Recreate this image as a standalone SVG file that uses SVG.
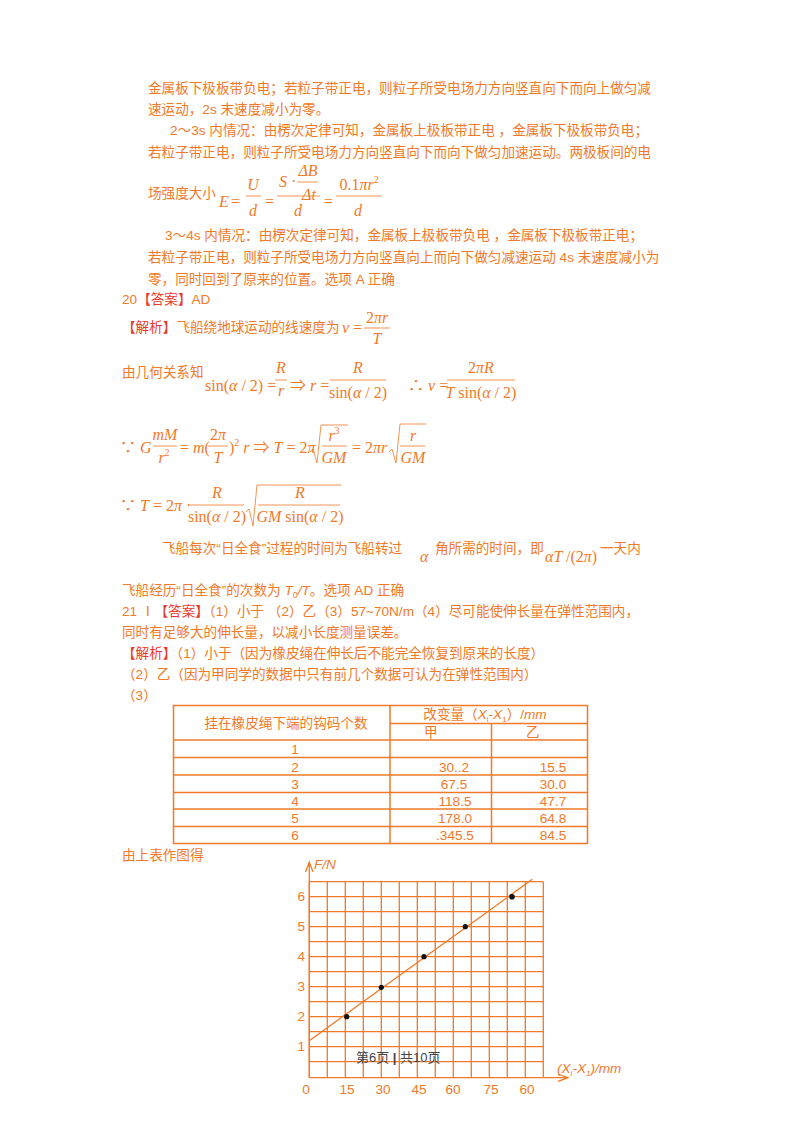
<svg xmlns="http://www.w3.org/2000/svg" width="800" height="1132" viewBox="0 0 800 1132">
<style>
text{font-family:"Liberation Sans","Noto Sans CJK SC",sans-serif;font-size:13.6px;fill:#f07a28}
.r{fill:#e83a2c}
.m{font-family:"Liberation Serif","Noto Sans CJK SC",serif;font-size:16px;font-style:italic;fill:#f07a28}
.n{font-style:normal}
.c{text-anchor:middle}
.fl{stroke:#f07a28;stroke-width:0.8;fill:none}
.tb{stroke:#f07a28;stroke-width:1.5;fill:none}
.g{stroke:#f07a28;stroke-width:1.3}
</style>
<rect width="800" height="1132" fill="#fff"/>
<g id="text1">
<text x="148" y="93">金属板下极板带负电；若粒子带正电，则粒子所受电场力方向竖直向下而向上做匀减</text>
<text x="148" y="114">速运动，2s 末速度减小为零。</text>
<text x="170" y="135">2～3s 内情况：由楞次定律可知，金属板上极板带正电 ，金属板下极板带负电；</text>
<text x="148" y="157">若粒子带正电，则粒子所受电场力方向竖直向下而向下做匀加速运动。两极板间的电</text>
<text x="148" y="198">场强度大小</text>
<text class="m" x="219" y="207">E</text><text class="m n" x="231" y="207">=</text>
<text class="m c" x="253" y="190">U</text><line class="fl" x1="246" y1="196" x2="261" y2="196"/><text class="m c" x="253" y="216">d</text>
<text class="m n" x="265" y="207">=</text>
<text class="m" x="279" y="187">S<tspan class="n"> ·</tspan></text>
<text class="m c" x="308" y="176">ΔB</text><line class="fl" x1="297" y1="182" x2="318" y2="182"/><text class="m c" x="309" y="200">Δt</text>
<line class="fl" x1="277" y1="196" x2="320" y2="196"/><text class="m c" x="298" y="216">d</text>
<text class="m n" x="324" y="207">=</text>
<text class="m c" x="359" y="190"><tspan class="n">0.1</tspan>πr<tspan class="n" font-size="10" dy="-7">2</tspan></text>
<line class="fl" x1="336" y1="196" x2="382" y2="196"/><text class="m c" x="358" y="216">d</text>
<text x="165" y="240">3～4s 内情况：由楞次定律可知，金属板上极板带负电 ，金属板下极板带正电；</text>
<text x="148" y="262">若粒子带正电，则粒子所受电场力方向竖直向上而向下做匀减速运动 4s 末速度减小为</text>
<text x="148" y="284">零，同时回到了原来的位置。选项 A 正确</text>
<text x="122" y="304">20<tspan class="r">【答案】</tspan>AD</text>
</g>
<g id="text2">
<text x="122" y="332"><tspan class="r">【解析】</tspan>飞船绕地球运动的线速度为</text>
<text class="m" x="342" y="333">v <tspan class="n">=</tspan></text>
<text class="m c" x="377" y="323"><tspan class="n">2</tspan>πr</text><line class="fl" x1="364" y1="328" x2="390" y2="328"/><text class="m c" x="377" y="344">T</text>
<text x="122" y="377">由几何关系知</text>
<text class="m n" x="205" y="391">sin(<tspan font-style="italic">α</tspan> / 2) =</text>
<text class="m c" x="281" y="373">R</text><line class="fl" x1="275" y1="380" x2="287" y2="380"/><text class="m c" x="281" y="396">r</text>
<text class="m n" x="290" y="391">⇒ <tspan font-style="italic">r</tspan> =</text>
<text class="m c" x="358" y="373">R</text><line class="fl" x1="330" y1="380" x2="386" y2="380"/><text class="m n c" x="358" y="398">sin(<tspan font-style="italic">α</tspan> / 2)</text>
<text class="m n" x="408" y="391">∴ <tspan font-style="italic">v</tspan> =</text>
<text class="m c" x="481" y="373"><tspan class="n">2</tspan>πR</text><line class="fl" x1="447" y1="380" x2="515" y2="380"/><text class="m c" x="481" y="398">T <tspan class="n">sin(</tspan>α<tspan class="n"> / 2)</tspan></text>
<text class="m n" x="120" y="453">∵ <tspan font-style="italic">G</tspan></text>
<text class="m c" x="165" y="440">mM</text><line class="fl" x1="153" y1="446" x2="177" y2="446"/><text class="m c" x="164" y="463">r<tspan class="n" font-size="10" dy="-7">2</tspan></text>
<text class="m n" x="180" y="453">= <tspan font-style="italic">m</tspan>(</text>
<text class="m c" x="218" y="440"><tspan class="n">2</tspan>π</text><line class="fl" x1="208" y1="446" x2="228" y2="446"/><text class="m c" x="218" y="463">T</text>
<text class="m n" x="229" y="453">)<tspan font-size="10" dy="-7">2</tspan><tspan dy="7"> </tspan><tspan font-style="italic">r</tspan> ⇒ <tspan font-style="italic">T</tspan> = 2<tspan font-style="italic">π</tspan></text>
<path class="fl" d="M310 452 L313 449 L317 463 L321 425 L348 425"/>
<text class="m c" x="334" y="441">r<tspan class="n" font-size="10" dy="-7">3</tspan></text><line class="fl" x1="322" y1="446" x2="347" y2="446"/><text class="m c" x="334" y="463">GM</text>
<text class="m n" x="352" y="453">= 2<tspan font-style="italic">πr</tspan></text>
<path class="fl" d="M389 452 L392 449 L396 463 L400 424 L426 424"/>
<text class="m c" x="413" y="441">r</text><line class="fl" x1="400" y1="446" x2="425" y2="446"/><text class="m c" x="413" y="463">GM</text>
<text class="m n" x="120" y="511">∵ <tspan font-style="italic">T</tspan> = 2<tspan font-style="italic">π</tspan> ·</text>
<text class="m c" x="217" y="498">R</text><line class="fl" x1="190" y1="505" x2="244" y2="505"/><text class="m n c" x="217" y="522">sin(<tspan font-style="italic">α</tspan> / 2)</text>
<path class="fl" d="M246 512 L249 509 L253 526 L257 485 L341 485"/>
<text class="m c" x="300" y="498">R</text><line class="fl" x1="258" y1="505" x2="340" y2="505"/><text class="m c" x="300" y="522">GM <tspan class="n">sin(</tspan>α<tspan class="n"> / 2)</tspan></text>
</g>
<g id="text3">
<text x="162" y="553">飞船每次“日全食”过程的时间为飞船转过</text>
<text class="m" x="420" y="562">α</text>
<text x="435" y="553">角所需的时间，即</text>
<text class="m" x="545" y="562">αT <tspan class="n">/(2</tspan>π<tspan class="n">)</tspan></text>
<text x="600" y="553">一天内</text>
<text x="122" y="595">飞船经历“日全食”的次数为 <tspan font-style="italic">T</tspan><tspan font-size="9" dy="3">0</tspan><tspan dy="-3" font-style="italic">/T</tspan>。选项 AD 正确</text>
<text x="122" y="616">21 Ⅰ<tspan class="r">【答案】</tspan>（1）小于 （2）乙（3）57~70N/m（4）尽可能使伸长量在弹性范围内，</text>
<text x="122" y="637">同时有足够大的伸长量，以减小长度测量误差。</text>
<text x="122" y="658"><tspan class="r">【解析】</tspan>（1）小于（因为橡皮绳在伸长后不能完全恢复到原来的长度）</text>
<text x="122" y="679">（2）乙（因为甲同学的数据中只有前几个数据可认为在弹性范围内）</text>
<text x="122" y="700">（3）</text>
</g>
<g id="table">
<rect class="tb" x="173.5" y="705.5" width="414" height="138"/>
<line class="tb" x1="390" y1="705.5" x2="390" y2="843.5"/>
<line class="tb" x1="491.5" y1="723.5" x2="491.5" y2="843.5"/>
<line class="tb" x1="390" y1="723.5" x2="587.5" y2="723.5"/>
<g class="tb"><line x1="173.5" y1="740" x2="587.5" y2="740"/><line x1="173.5" y1="757.5" x2="587.5" y2="757.5"/><line x1="173.5" y1="775" x2="587.5" y2="775"/><line x1="173.5" y1="792.5" x2="587.5" y2="792.5"/><line x1="173.5" y1="809" x2="587.5" y2="809"/><line x1="173.5" y1="826.5" x2="587.5" y2="826.5"/></g>
<text class="c" x="286" y="728">挂在橡皮绳下端的钩码个数</text>
<text class="c" x="485" y="719">改变量（<tspan font-style="italic">X</tspan><tspan font-size="8" dy="3">i</tspan><tspan dy="-3">-</tspan><tspan font-style="italic">X</tspan><tspan font-size="8" dy="3">1</tspan><tspan dy="-3">）/</tspan><tspan font-style="italic">mm</tspan></text>
<text x="424" y="737">甲</text><text x="526" y="737">乙</text>
<text class="c" x="295" y="754">1</text>
<text class="c" x="295" y="772">2</text><text class="c" x="454" y="772">30..2</text><text class="c" x="553" y="772">15.5</text>
<text class="c" x="295" y="789">3</text><text class="c" x="454" y="789">67.5</text><text class="c" x="553" y="789">30.0</text>
<text class="c" x="295" y="806">4</text><text class="c" x="455" y="806">118.5</text><text class="c" x="553" y="806">47.7</text>
<text class="c" x="295" y="823">5</text><text class="c" x="455" y="823">178.0</text><text class="c" x="553" y="823">64.8</text>
<text class="c" x="295" y="840">6</text><text class="c" x="455" y="840">.345.5</text><text class="c" x="553" y="840">84.5</text>
<text x="122" y="860">由上表作图得</text>
</g>
<g id="chart">
<g class="g">
<path d="M309.3 881.7V1077.7M327.3 881.7V1077.7M345.3 881.7V1077.7M363.3 881.7V1077.7M381.3 881.7V1077.7M399.3 881.7V1077.7M417.3 881.7V1077.7M435.3 881.7V1077.7M453.3 881.7V1077.7M471.3 881.7V1077.7M489.3 881.7V1077.7M507.3 881.7V1077.7M525.3 881.7V1077.7M543.3 881.7V1077.7"/>
<path d="M309.3 881.7H543.3M309.3 896.7H543.3M309.3 911.7H543.3M309.3 926.7H543.3M309.3 941.7H543.3M309.3 956.7H543.3M309.3 971.7H543.3M309.3 986.7H543.3M309.3 1001.7H543.3M309.3 1016.7H543.3M309.3 1031.7H543.3M309.3 1046.7H543.3M309.3 1061.7H543.3M309.3 1077.7H543.3"/>
</g>
<g id="connectors">
<path class="g" fill="none" d="M309.3 1077.7V864M305.5 872L309.3 862L313 872"/>
<path class="g" fill="none" d="M543.3 1077.7H567M558 1074L568 1077.7L558 1081.3"/>
<line class="g" x1="309.3" y1="1040.7" x2="532.3" y2="879.3"/>
</g>
<g fill="#111"><circle cx="346.7" cy="1016.7" r="2.6"/><circle cx="381.3" cy="987.3" r="2.6"/><circle cx="424" cy="956.7" r="2.6"/><circle cx="465.3" cy="926.7" r="2.6"/><circle cx="512" cy="896.7" r="2.8"/></g>
<text x="314" y="869" font-style="italic">F/N</text>
<text x="305" y="901" text-anchor="end">6</text><text x="305" y="931" text-anchor="end">5</text><text x="305" y="961" text-anchor="end">4</text><text x="305" y="991" text-anchor="end">3</text><text x="305" y="1021" text-anchor="end">2</text><text x="305" y="1051" text-anchor="end">1</text>
<text x="306" y="1094" class="c">0</text><text x="347" y="1094" class="c">15</text><text x="383" y="1094" class="c">30</text><text x="419" y="1094" class="c">45</text><text x="453" y="1094" class="c">60</text><text x="491" y="1094" class="c">75</text><text x="527" y="1094" class="c">60</text>
<text x="557" y="1073" font-style="italic" font-size="13">(X<tspan font-size="8" dy="3">i</tspan><tspan dy="-3">-X</tspan><tspan font-size="8" dy="3">1</tspan><tspan dy="-3">)/mm</tspan></text>
<text x="356" y="1062" style="fill:#444;font-size:13px">第6页 <tspan font-weight="bold">|</tspan> 共10页</text>
</g>
</svg>
